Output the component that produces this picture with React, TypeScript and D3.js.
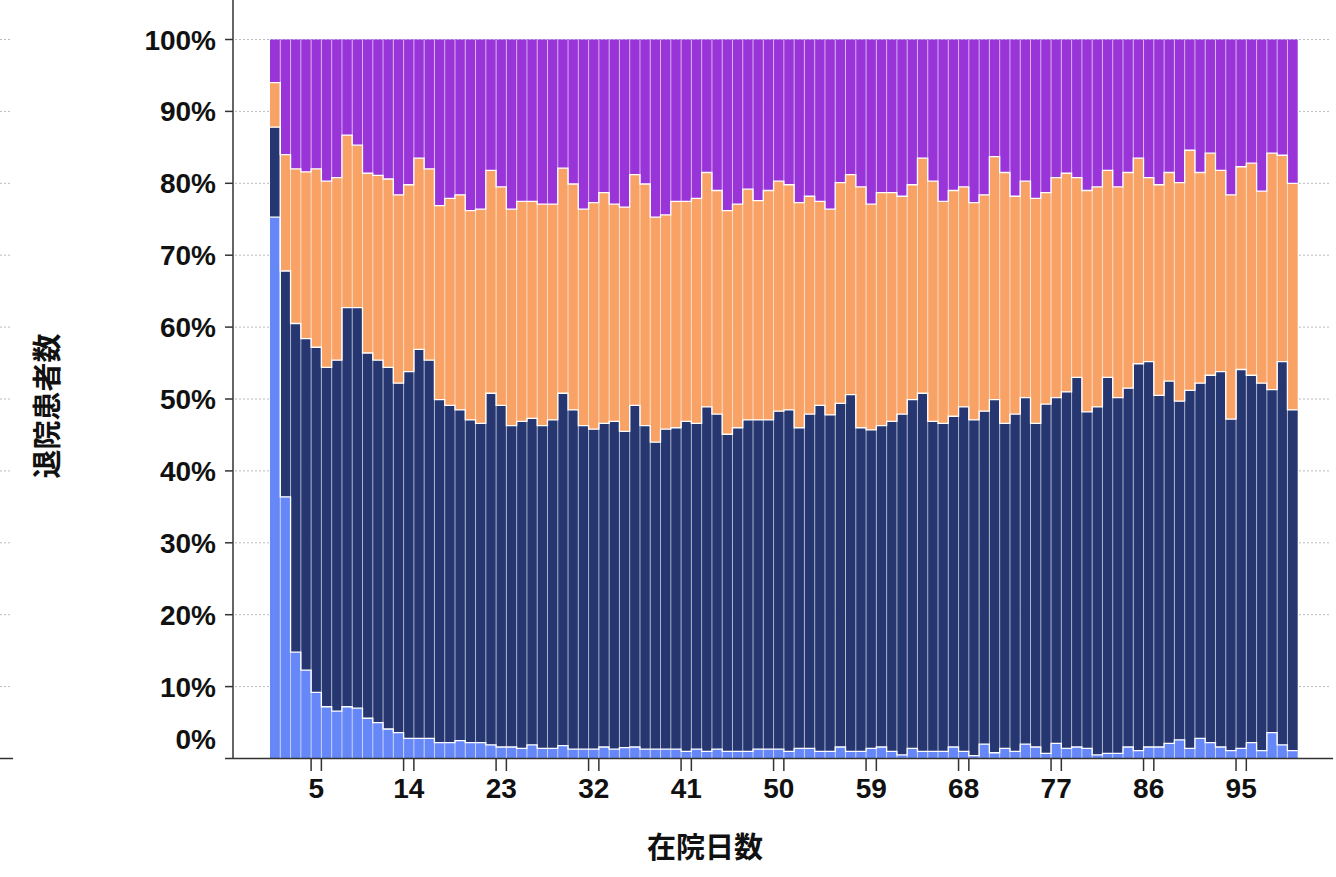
import React from "react";
import * as d3 from "d3";

// 在院日数 1..100
const days: number[] = Array.from({ length: 100 }, (_, i) => i + 1);
const xTickDays: number[] = [5, 14, 23, 32, 41, 50, 59, 68, 77, 86, 95];
const yTickValues: number[] = [0, 10, 20, 30, 40, 50, 60, 70, 80, 90, 100];

// shares (%) per day, bottom to top
const seriesA: number[] = [
  75.3, 36.4, 14.8, 12.3, 9.2, 7.2, 6.6, 7.2, 7.0, 5.6,
  5.0, 4.1, 3.6, 2.8, 2.8, 2.8, 2.2, 2.2, 2.5, 2.2,
  2.2, 1.9, 1.6, 1.6, 1.4, 1.9, 1.4, 1.4, 1.8, 1.3,
  1.3, 1.3, 1.6, 1.3, 1.5, 1.6, 1.3, 1.3, 1.3, 1.3,
  1.0, 1.3, 1.0, 1.3, 1.0, 1.0, 1.0, 1.3, 1.3, 1.3,
  1.0, 1.4, 1.4, 1.0, 1.0, 1.6, 1.0, 1.0, 1.4, 1.6,
  1.0, 0.5, 1.4, 1.0, 1.0, 1.0, 1.6, 1.0, 0.4, 2.0,
  0.8, 1.4, 1.0, 2.0, 1.6, 0.7, 2.1, 1.4, 1.6, 1.4,
  0.5, 0.7, 0.7, 1.6, 1.1, 1.6, 1.6, 2.1, 2.6, 1.4,
  2.8, 2.2, 1.6, 1.1, 1.4, 2.2, 1.1, 3.6, 1.9, 1.1,
];
const seriesB: number[] = [
  12.5, 31.4, 45.7, 46.1, 48.0, 47.2, 48.8, 55.5, 55.7, 50.8,
  50.4, 50.3, 48.6, 51.0, 54.1, 52.6, 47.7, 46.9, 46.0, 44.9,
  44.4, 48.9, 47.5, 44.7, 45.5, 45.4, 44.9, 45.7, 49.0, 47.2,
  45.0, 44.5, 45.0, 45.6, 44.0, 47.5, 45.0, 42.7, 44.5, 44.7,
  45.9, 45.3, 47.9, 46.6, 44.1, 45.0, 46.1, 45.8, 45.8, 47.0,
  47.5, 44.6, 46.5, 48.1, 46.8, 47.8, 49.6, 45.0, 44.3, 44.7,
  45.9, 47.4, 48.5, 49.8, 45.9, 45.6, 46.0, 47.9, 46.7, 46.3,
  49.1, 45.2, 46.9, 48.2, 45.0, 48.6, 48.1, 49.6, 51.4, 46.8,
  48.4, 52.3, 49.5, 49.9, 53.8, 53.6, 48.9, 50.4, 47.1, 49.8,
  49.4, 51.1, 52.2, 46.1, 52.7, 51.1, 51.1, 47.7, 53.3, 47.4,
];
const seriesC: number[] = [
  6.2, 16.2, 21.5, 23.2, 24.8, 25.9, 25.4, 24.0, 22.6, 25.0,
  25.7, 26.2, 26.2, 26.0, 26.6, 26.6, 27.0, 28.8, 29.9, 29.1,
  29.8, 31.0, 30.4, 30.1, 30.6, 30.2, 30.8, 30.0, 31.3, 31.4,
  30.1, 31.5, 32.1, 30.2, 31.2, 32.1, 33.6, 31.3, 29.8, 31.5,
  30.6, 31.3, 32.6, 31.1, 31.1, 31.1, 32.1, 30.5, 31.9, 32.0,
  31.3, 31.3, 30.3, 28.4, 28.6, 30.7, 30.6, 33.5, 31.4, 32.4,
  31.8, 30.3, 29.9, 32.7, 33.4, 30.9, 31.4, 30.6, 30.2, 30.1,
  33.8, 34.9, 30.3, 30.1, 31.3, 29.4, 30.6, 30.4, 27.8, 30.8,
  30.6, 28.8, 29.3, 30.0, 28.6, 25.6, 29.3, 29.0, 30.4, 33.4,
  29.3, 30.9, 28.0, 31.2, 28.2, 29.5, 26.7, 32.9, 28.7, 31.5,
];
const seriesD: number[] = [
  6.0, 16.0, 18.0, 18.4, 18.0, 19.7, 19.2, 13.3, 14.7, 18.6,
  18.9, 19.4, 21.6, 20.2, 16.5, 18.0, 23.1, 22.1, 21.6, 23.8,
  23.6, 18.2, 20.5, 23.6, 22.5, 22.5, 22.9, 22.9, 17.9, 20.1,
  23.6, 22.7, 21.3, 22.9, 23.3, 18.8, 20.1, 24.7, 24.4, 22.5,
  22.5, 22.1, 18.5, 21.0, 23.8, 22.9, 20.8, 22.4, 21.0, 19.7,
  20.2, 22.7, 21.8, 22.5, 23.6, 19.9, 18.8, 20.5, 22.9, 21.3,
  21.3, 21.8, 20.2, 16.5, 19.7, 22.5, 21.0, 20.5, 22.7, 21.6,
  16.3, 18.5, 21.8, 19.7, 22.1, 21.3, 19.2, 18.6, 19.2, 21.0,
  20.5, 18.2, 20.5, 18.5, 16.5, 19.2, 20.2, 18.5, 19.9, 15.4,
  18.5, 15.8, 18.2, 21.6, 17.7, 17.2, 21.1, 15.8, 16.1, 20.0,
];

const seriesKeys = ["a", "b", "c", "d"];
const seriesColors: Record<string, string> = {
  a: "#6687f7",
  b: "#253670",
  c: "#f9a265",
  d: "#9834d8",
};

const xTitle = "在院日数";
const yTitle = "退院患者数";

type Row = { day: number; a: number; b: number; c: number; d: number };
const rows: Row[] = days.map((day, i) => ({
  day,
  a: seriesA[i],
  b: seriesB[i],
  c: seriesC[i],
  d: seriesD[i],
}));

const W = 1336;
const H = 877;
const AXIS_X = 233;
const Y0 = 758.5;
const Y100 = 39.5;
const BAR_L = 270;
const BAR_R = 1297.7;

const tickFont = "'Liberation Sans', Arial, Helvetica, sans-serif";
const cjkFont = "'Noto Sans CJK JP', 'Noto Sans CJK SC', sans-serif";

export default function App() {
  const x = d3
    .scaleBand<number>()
    .domain(days)
    .range([BAR_L, BAR_R])
    .padding(0);
  const y = d3.scaleLinear().domain([0, 1]).range([Y0, Y100]);
  const stacked = d3
    .stack<Row>()
    .keys(seriesKeys)
    .offset(d3.stackOffsetExpand)(rows);
  const bw = x.bandwidth();
  const line = d3.line<[number, number]>();

  // step outline along the top of each lower layer
  const outlines = stacked.slice(0, stacked.length - 1).map((layer) => {
    const pts: [number, number][] = [];
    layer.forEach((seg, i) => {
      const x0 = x(rows[i].day) as number;
      pts.push([x0, y(seg[1])]);
      pts.push([x0 + bw, y(seg[1])]);
    });
    return { key: layer.key, d: line(pts) || "" };
  });

  return (
    <svg
      width={W}
      height={H}
      style={{ position: "absolute", left: 0, top: 0, background: "#fff" }}
    >
      {/* grid lines */}
      <g>
        {yTickValues.map((v) => (
          <g key={"g" + v}>
            <line
              x1={0}
              x2={12}
              y1={y(v / 100)}
              y2={y(v / 100)}
              stroke="#bbb"
              strokeWidth={1}
              strokeDasharray="2,2"
            />
            {v > 0 && (
              <line
                x1={AXIS_X + 2}
                x2={1331}
                y1={y(v / 100)}
                y2={y(v / 100)}
                stroke="#bbb"
                strokeWidth={1}
                strokeDasharray="2,2"
              />
            )}
          </g>
        ))}
      </g>
      {/* bars */}
      <g>
        {stacked.map((layer) => (
          <g key={layer.key} fill={seriesColors[layer.key]}>
            {layer.map((seg, i) => (
              <rect
                key={i}
                x={x(rows[i].day) as number}
                width={bw + (i < rows.length - 1 ? 0.4 : 0)}
                y={y(seg[1])}
                height={Math.max(0, y(seg[0]) - y(seg[1]))}
              />
            ))}
          </g>
        ))}
      </g>
      {/* bar separators */}
      <g stroke="#fff" strokeWidth={0.7} opacity={0.9}>
        {days.slice(1).map((d) => (
          <line
            key={"sep" + d}
            x1={x(d) as number}
            x2={x(d) as number}
            y1={Y100}
            y2={Y0}
          />
        ))}
      </g>
      {/* layer top outlines */}
      <g fill="none" stroke="#fff" strokeWidth={1.3}>
        {outlines.map((o) => (
          <path key={"o" + o.key} d={o.d} />
        ))}
      </g>
      {/* left stub line */}
      <line x1={0} x2={13} y1={Y0} y2={Y0} stroke="#333" strokeWidth={1.5} />
      {/* y axis */}
      <g>
        <line x1={AXIS_X} x2={AXIS_X} y1={0} y2={Y0} stroke="#333" strokeWidth={1.5} />
        {yTickValues.map((v) => (
          <g key={"yt" + v}>
            {v > 0 && (
              <line
                x1={AXIS_X - 8}
                x2={AXIS_X}
                y1={y(v / 100)}
                y2={y(v / 100)}
                stroke="#333"
                strokeWidth={1.5}
              />
            )}
            <text
              x={216}
              y={y(v / 100) - (v === 0 ? 19.5 : 0)}
              dy="0.36em"
              textAnchor="end"
              fontFamily={tickFont}
              fontWeight="bold"
              fontSize={28}
              fill="#111"
            >
              {v + "%"}
            </text>
          </g>
        ))}
      </g>
      {/* x axis */}
      <g>
        <line x1={AXIS_X - 8} x2={1333} y1={Y0} y2={Y0} stroke="#333" strokeWidth={1.5} />
        {xTickDays.map((d) => {
          const x0 = x(d) as number;
          return (
            <g key={"xt" + d}>
              <line x1={x0} x2={x0} y1={Y0} y2={771} stroke="#333" strokeWidth={1.5} />
              <line x1={x0 + bw} x2={x0 + bw} y1={Y0} y2={771} stroke="#333" strokeWidth={1.5} />
              <text
                x={x0 + bw / 2}
                y={798}
                textAnchor="middle"
                fontFamily={tickFont}
                fontWeight="bold"
                fontSize={28}
                fill="#111"
              >
                {String(d)}
              </text>
            </g>
          );
        })}
      </g>
      {/* titles */}
      <text
        x={705}
        y={848}
        dy="0.36em"
        textAnchor="middle"
        fontFamily={cjkFont}
        fontWeight="bold"
        fontSize={29}
        fill="#111"
      >
        {xTitle}
      </text>
      <text
        transform={`translate(48,406) rotate(-90)`}
        dy="0.36em"
        textAnchor="middle"
        fontFamily={cjkFont}
        fontWeight="bold"
        fontSize={29}
        fill="#111"
      >
        {yTitle}
      </text>
    </svg>
  );
}
